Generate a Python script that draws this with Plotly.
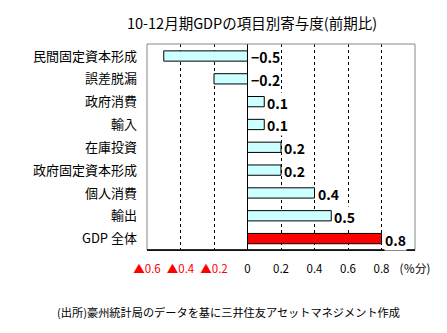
import plotly.graph_objects as go

categories = ["民間固定資本形成", "誤差脱漏", "政府消費", "輸入", "在庫投資",
              "政府固定資本形成", "個人消費", "輸出", "GDP 全体"]
values = [-0.5, -0.2, 0.1, 0.1, 0.2, 0.2, 0.4, 0.5, 0.8]
value_labels = ["−0.5", "−0.2", "0.1", "0.1", "0.2", "0.2", "0.4", "0.5", "0.8"]
bar_colors = ["#CCFFFF"] * 8 + ["#FF0000"]
tick_vals = [-0.6, -0.4, -0.2, 0, 0.2, 0.4, 0.6, 0.8, 1.0]
tick_text = ["<span style='color:#FF0000'>▲0.6</span>",
             "<span style='color:#FF0000'>▲0.4</span>",
             "<span style='color:#FF0000'>▲0.2</span>",
             "0", "0.2", "0.4", "0.6", "0.8", "(％分)"]

FONT = "Noto Sans CJK JP"

fig = go.Figure()
fig.add_trace(go.Bar(
    x=values, y=categories, orientation="h",
    marker=dict(color=bar_colors, line=dict(color="black", width=1)),
    width=0.45, showlegend=False, hoverinfo="skip",
))

for c, v, t in zip(categories, values, value_labels):
    fig.add_annotation(x=max(v, 0), y=c, text="<b>" + t + "</b>", showarrow=False,
                       xanchor="left", xshift=2, yshift=-1, bgcolor="white",
                       borderpad=0,
                       font=dict(family=FONT, size=14, color="black"))

fig.update_layout(
    width=447, height=333,
    margin=dict(l=147, r=32, t=44, b=83),
    paper_bgcolor="white", plot_bgcolor="white",
    font=dict(family=FONT, size=11, color="black"),
    title=dict(text="10-12月期GDPの項目別寄与度(前期比)", x=252 / 447, xanchor="center",
               y=1 - 24 / 333, yanchor="middle",
               font=dict(family=FONT, size=14.5, color="black")),
    xaxis=dict(range=[-0.6, 1.0], tickvals=tick_vals, ticktext=tick_text,
               showgrid=True, gridcolor="black", griddash="3px,3px", gridwidth=1,
               zeroline=True, zerolinecolor="black", zerolinewidth=1,
               showline=True, linecolor="black", linewidth=1,
               ticks="", tickfont=dict(family=FONT, size=11.5), ticklabelstandoff=8,
               fixedrange=True),
    yaxis=dict(autorange="reversed", showgrid=False, showline=False,
               ticks="", tickfont=dict(family=FONT, size=13, color="black"),
               ticklabelstandoff=9, fixedrange=True),
    shapes=[dict(type="rect", xref="paper", yref="paper", x0=0, x1=1, y0=0, y1=1,
                 line=dict(color="#888888", width=1), layer="above"),
            dict(type="line", xref="paper", yref="paper", x0=0, x1=1, y0=0, y1=0,
                 line=dict(color="black", width=1.5), layer="above")],
)

fig.add_annotation(xref="paper", yref="paper", x=(228 - 147) / 268, y=-(312 - 250) / 206,
                   text="(出所)豪州統計局のデータを基に三井住友アセットマネジメント作成",
                   showarrow=False, xanchor="center", yanchor="middle",
                   font=dict(family=FONT, size=11.2, color="black"))

fig.write_html("out.html")
